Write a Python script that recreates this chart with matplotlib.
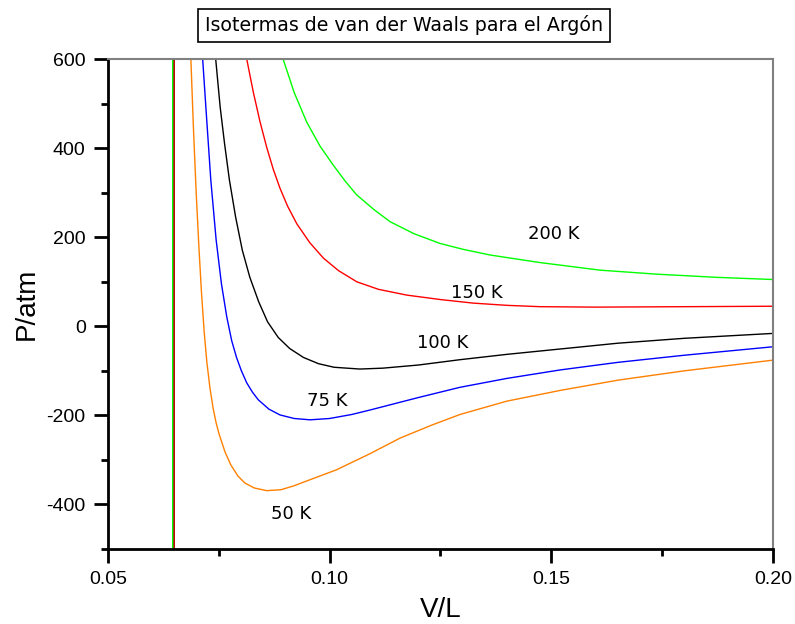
import numpy as np
import matplotlib
matplotlib.use('Agg')
import matplotlib.pyplot as plt

plt.rcParams['axes.unicode_minus'] = False


# ---------- Dados (V em L, P em atm) ----------

temperaturas = ['50 K', '75 K', '100 K', '150 K', '200 K']
cores = ['#ff8000', '#0000ff', '#000000', '#ff0000', '#00ff00']

# posição da assíntota vertical de cada isoterma (V = b)
v_assintota = [0.0649, 0.0649, 0.0649, 0.0649, 0.0646]
p_assintota = [-2000, 2000]

v_50 = [0.0687, 0.0693, 0.0699, 0.0705, 0.0711, 0.0717, 0.0723, 0.0730, 0.0737,
        0.0744, 0.0751, 0.0764, 0.0777, 0.0793, 0.0809, 0.0830, 0.0858, 0.0890,
        0.0920, 0.0941, 0.1016, 0.1091, 0.1159, 0.1230, 0.1294, 0.1400, 0.1520,
        0.1650, 0.1800, 0.2000]
p_50 = [600, 440, 300, 180, 75, -12, -80, -138, -183,
        -217, -243, -282, -311, -336, -352, -363, -369, -367,
        -358, -350, -322, -286, -251, -222, -198, -168, -144,
        -121, -100, -76]

v_75 = [0.07136, 0.0723, 0.0732, 0.0744, 0.0756, 0.0768, 0.0779, 0.0790, 0.0801,
        0.0813, 0.0826, 0.0839, 0.0863, 0.0888, 0.0920, 0.0956, 0.1000, 0.1050,
        0.1091, 0.1200, 0.1294, 0.1400, 0.1520, 0.1650, 0.1800, 0.2000]
p_75 = [600, 460, 328, 194, 95, 21, -32, -70, -100,
        -127, -148, -165, -186, -199, -207, -210, -207, -198,
        -188, -160, -137, -117, -98, -81, -65, -46]

v_100 = [0.0743, 0.0753, 0.0763, 0.0774, 0.0788, 0.0803, 0.0820, 0.0840, 0.0860,
         0.0884, 0.0910, 0.0941, 0.0975, 0.1010, 0.1068, 0.1120, 0.1200, 0.1294,
         0.1400, 0.1520, 0.1650, 0.1800, 0.2000]
p_100 = [600, 493, 410, 328, 245, 171, 110, 55, 10,
         -25, -50, -70, -84, -92, -96, -94, -87, -75,
         -63, -51, -38, -27, -16]

v_150 = [0.0813, 0.0828, 0.0843, 0.0858, 0.0873, 0.0888, 0.0905, 0.0926, 0.0955,
         0.0986, 0.1020, 0.1061, 0.1110, 0.1174, 0.1250, 0.1324, 0.1400, 0.1475,
         0.1600, 0.1800, 0.2000]
p_150 = [600, 525, 459, 402, 352, 310, 270, 230, 188,
         153, 125, 100, 83, 70, 60, 52, 47, 44,
         43, 44, 45]

v_200 = [0.0895, 0.0920, 0.0948, 0.0978, 0.1008, 0.1035, 0.1061, 0.1100, 0.1136,
         0.1190, 0.1249, 0.1300, 0.1362, 0.1475, 0.1610, 0.1738, 0.1870, 0.2000]
p_200 = [600, 525, 459, 405, 362, 326, 295, 262, 235,
         208, 186, 173, 160, 143, 126, 117, 110, 105]

# posição dos rótulos de cada isoterma
v_rotulo = [0.0913, 0.0994, 0.1256, 0.1332, 0.1506]
p_rotulo = [-421, -168, -37, 75, 207]


# ---------- Plot ----------

fig = plt.figure(figsize=(7.95, 6.24), dpi=100)
ax = fig.add_axes([0.1358, 0.1202, 0.8365, 0.7852])

series = [(v_50, p_50), (v_75, p_75), (v_100, p_100), (v_150, p_150), (v_200, p_200)]
for (v, p), va, cor in zip(series, v_assintota, cores):
    vv = [va, va] + v
    pp = p_assintota + p
    ax.plot(vv, pp, color=cor, linewidth=1.0)

for txt, x, y in zip(temperaturas, v_rotulo, p_rotulo):
    ax.text(x, y, txt, fontsize=13, family='DejaVu Sans', ha='center', va='center')

ax.set_xlim(0.05, 0.20)
ax.set_ylim(-500, 600)
ax.set_xticks([0.05, 0.10, 0.15, 0.20])
ax.set_xticklabels(['0.05', '0.10', '0.15', '0.20'])
ax.set_xticks([0.075, 0.125, 0.175], minor=True)
ax.set_yticks([-400, -200, 0, 200, 400, 600])
ax.set_yticks([-500, -300, -100, 100, 300, 500], minor=True)

for lab in ax.get_xticklabels() + ax.get_yticklabels():
    lab.set_family('Liberation Sans')
    lab.set_fontsize(14)

ax.tick_params(which='major', length=10, width=2, direction='out', pad=6)
ax.tick_params(which='minor', length=5, width=2, direction='out')
ax.tick_params(top=False, right=False)

ax.spines['left'].set_linewidth(2)
ax.spines['bottom'].set_linewidth(2)
ax.spines['top'].set_color('#808080')
ax.spines['right'].set_color('#808080')
ax.spines['top'].set_linewidth(1.5)
ax.spines['right'].set_linewidth(1.5)

ax.set_xlabel('V/L', fontsize=20, family='Liberation Sans', labelpad=6)
ax.set_ylabel('P/atm', fontsize=20, family='Liberation Sans', labelpad=5)

fig.text(0.508, 0.9595, 'Isotermas de van der Waals para el Argón', fontsize=13.7,
         family='DejaVu Sans', ha='center', va='center',
         bbox=dict(boxstyle='square,pad=0.35', facecolor='white', edgecolor='black', linewidth=1.2))

fig.savefig('out.png', dpi=100)
